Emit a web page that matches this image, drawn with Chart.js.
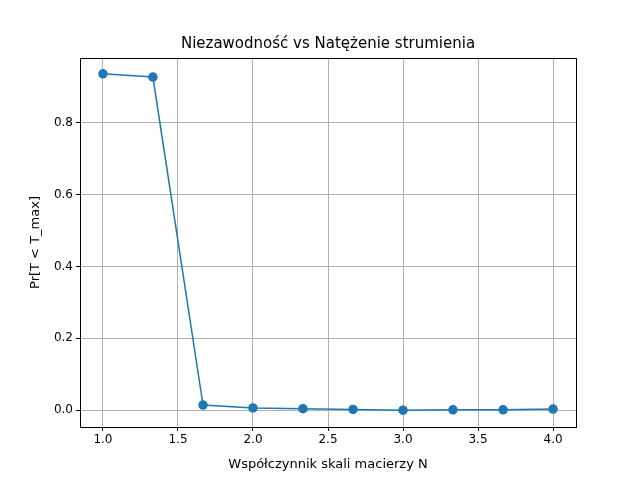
<!DOCTYPE html>
<html>
<head>
<meta charset="utf-8">
<script src="https://cdn.jsdelivr.net/npm/chart.js@4"></script>
<style>body{margin:0;background:#fff}</style>
</head>
<body>
<canvas id="c" width="640" height="480"></canvas>
<script>
// data
const scaleFactors = [1.0, 1.333, 1.667, 2.0, 2.333, 2.667, 3.0, 3.333, 3.667, 4.0];
const reliability = [0.937, 0.928, 0.014, 0.006, 0.004, 0.002, 0.0, 0.001, 0.001, 0.003];
const xTicks = [1.0, 1.5, 2.0, 2.5, 3.0, 3.5, 4.0];
const yTicks = [0.0, 0.2, 0.4, 0.6, 0.8];
const titleText = 'Niezawodność vs Natężenie strumienia';

const font = 'DejaVu Sans';
const blue = '#1f77b4';

// black frame round the plot area, and the title centred over it
const frame = {
    id: 'frame',
    afterDraw(chart) {
        const a = chart.chartArea, ctx = chart.ctx;
        ctx.save();
        ctx.strokeStyle = '#000';
        ctx.lineWidth = 1;
        ctx.strokeRect(a.left + 0.5, a.top + 0.5, a.width, a.height);
        ctx.fillStyle = '#000';
        ctx.font = '15px "DejaVu Sans"';
        ctx.textAlign = 'center';
        ctx.textBaseline = 'middle';
        ctx.fillText(titleText, (a.left + a.right) / 2, a.top - 14);
        ctx.restore();
    }
};

new Chart(document.getElementById('c'), {
    type: 'scatter',
    data: {
        datasets: [{
            data: scaleFactors.map((x, i) => ({ x: x, y: reliability[i] })),
            showLine: true,
            borderColor: blue,
            backgroundColor: blue,
            borderWidth: 1.5,
            pointRadius: 4,
            pointHoverRadius: 4
        }]
    },
    options: {
        responsive: false,
        animation: false,
        devicePixelRatio: 1,
        layout: { padding: { left: 0, right: 64, top: 58, bottom: 0 } },
        plugins: {
            legend: { display: false },
            tooltip: { enabled: false },
            title: { display: false }
        },
        scales: {
            x: {
                type: 'linear',
                min: 0.847,
                max: 4.153,
                afterBuildTicks: s => { s.ticks = xTicks.map(v => ({ value: v })); },
                afterFit: s => { s.height = 53; },
                ticks: { color: '#000', font: { family: font, size: 12 }, callback: v => v.toFixed(1), padding: 2 },
                grid: { color: '#b0b0b0', tickColor: '#000', tickLength: 4 },
                border: { color: '#000' },
                title: { display: true, text: 'Współczynnik skali macierzy N', color: '#000', font: { family: font, size: 13 }, padding: { top: 4, bottom: 8 } }
            },
            y: {
                min: -0.047,
                max: 0.981,
                afterBuildTicks: s => { s.ticks = yTicks.map(v => ({ value: v })); },
                afterFit: s => { s.width = 80; },
                ticks: { color: '#000', font: { family: font, size: 12 }, callback: v => v.toFixed(1), padding: 3 },
                grid: { color: '#b0b0b0', tickColor: '#000', tickLength: 4 },
                border: { color: '#000' },
                title: { display: true, text: 'Pr[T < T_max]', color: '#000', font: { family: font, size: 13 }, padding: { top: 28, bottom: 6 } }
            }
        }
    },
    plugins: [frame]
});
</script>
</body>
</html>
